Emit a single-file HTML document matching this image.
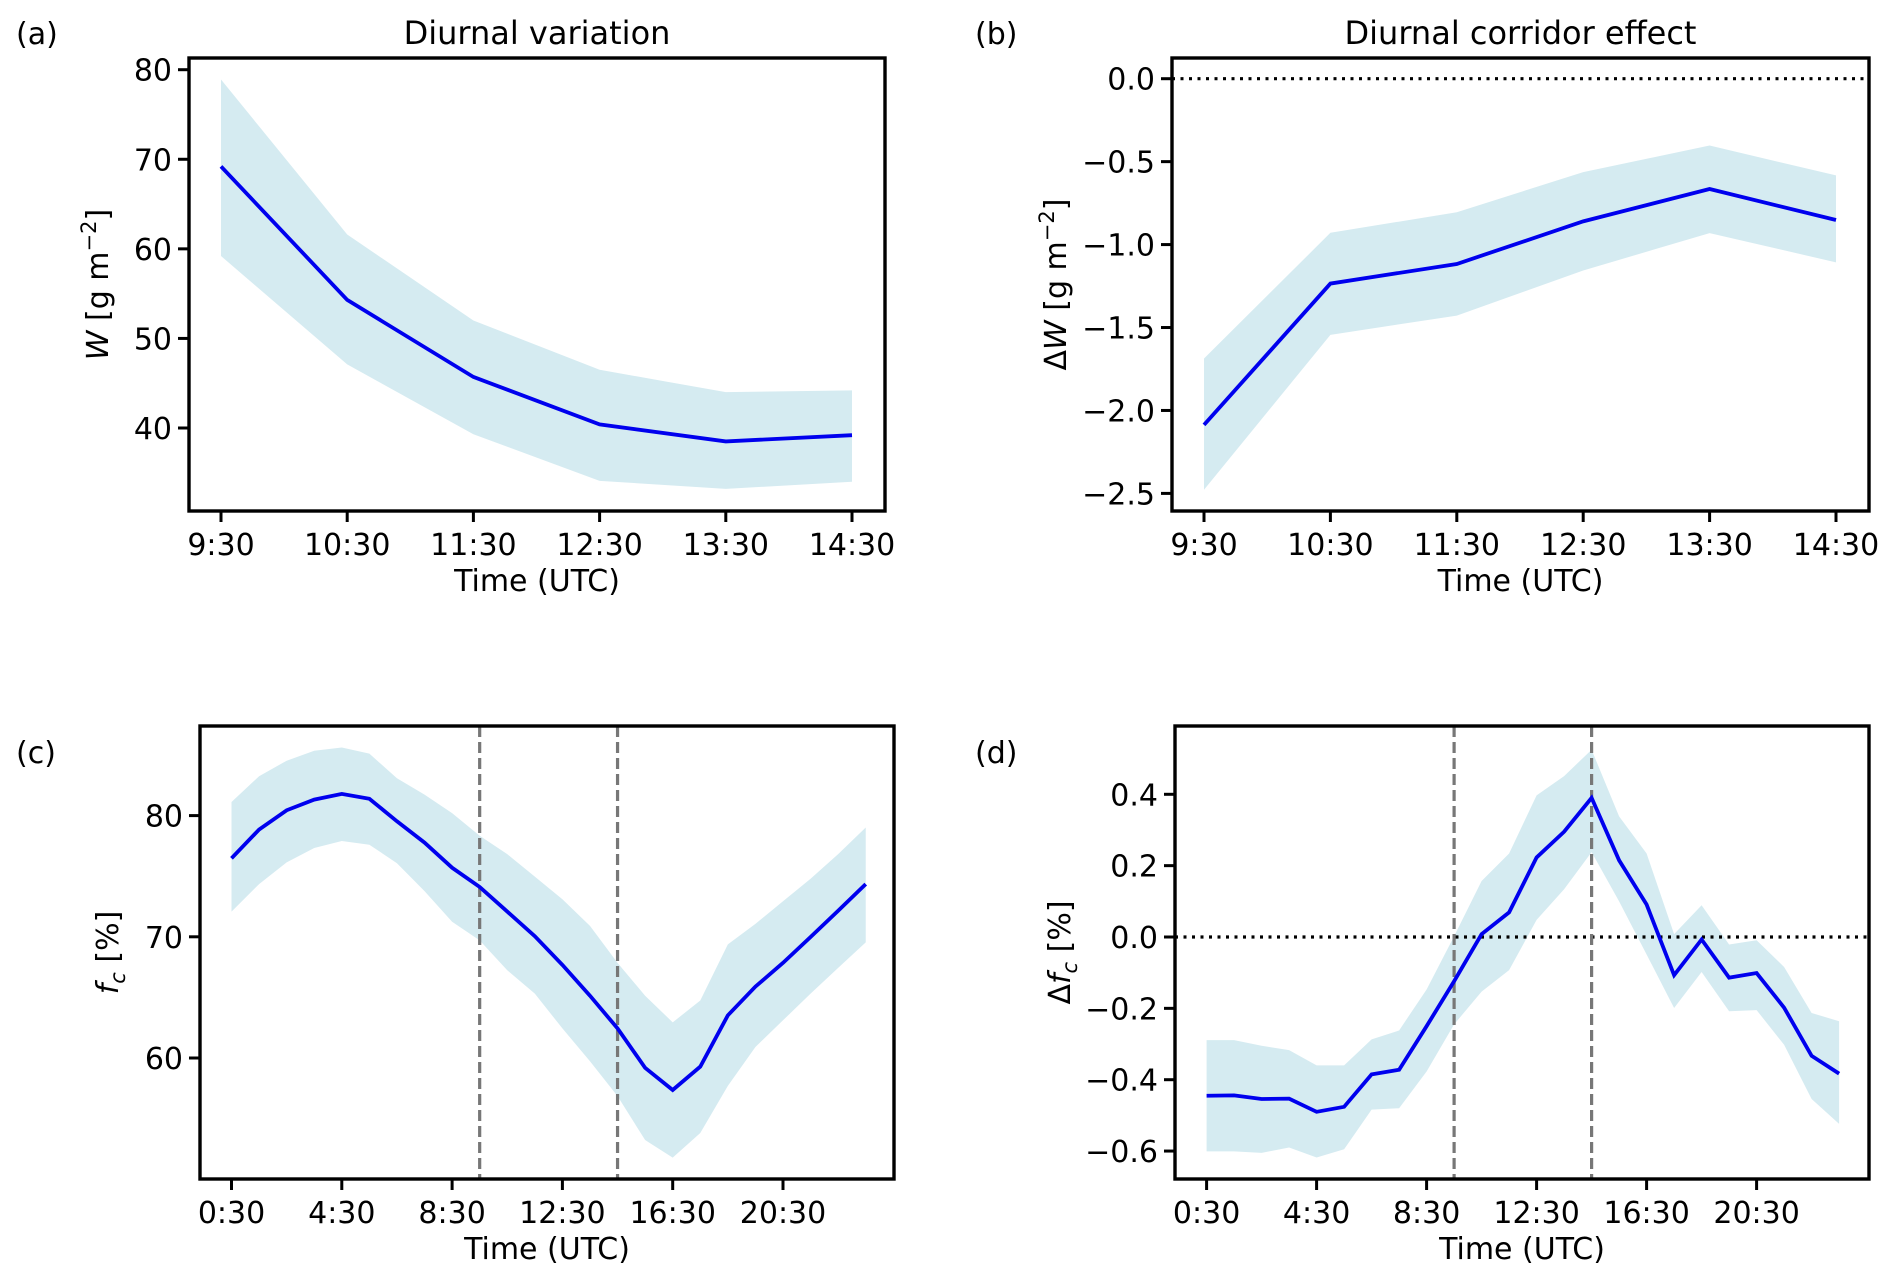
<!DOCTYPE html>
<html><head><meta charset="utf-8"><style>
html,body{margin:0;padding:0;background:#fff;}
svg{display:block;font-family:"DejaVu Sans","Liberation Sans",sans-serif;}
</style></head><body>
<svg id="fig" width="1892" height="1278" viewBox="0 0 1892 1278" xmlns="http://www.w3.org/2000/svg"></svg>
<script>
// Panel a
const aCats = ["9:30","10:30","11:30","12:30","13:30","14:30"];
const aMean = [69.2,54.3,45.7,40.4,38.5,39.2];
const aUpper = [78.9,61.6,52.0,46.5,44.0,44.2];
const aLower = [59.2,47.1,39.3,34.1,33.2,34.0];
const aYTicks = [40,50,60,70,80];
// Panel b
const bMean = [-2.087,-1.235,-1.117,-0.860,-0.665,-0.852];
const bUpper = [-1.687,-0.929,-0.805,-0.563,-0.403,-0.583];
const bLower = [-2.478,-1.544,-1.428,-1.156,-0.931,-1.107];
const bYTicks = [-2.5,-2.0,-1.5,-1.0,-0.5,0.0];
// Panel c (hourly 0:30..23:30)
const hourly = [0,1,2,3,4,5,6,7,8,9,10,11,12,13,14,15,16,17,18,19,20,21,22,23];
const hourTickLabels = ["0:30","4:30","8:30","12:30","16:30","20:30"];
const hourTickIdx = [0,4,8,12,16,20];
const vlineIdx = [9,14];
const cMean = [76.48,78.85,80.44,81.32,81.79,81.39,79.53,77.77,75.70,74.11,72.08,70.05,67.68,65.14,62.44,59.19,57.36,59.29,63.52,65.89,67.85,69.98,72.15,74.35];
const cUpper = [81.12,83.25,84.53,85.35,85.62,85.11,83.08,81.73,80.20,78.34,76.82,74.96,73.10,70.90,67.85,65.14,62.94,64.74,69.37,71.07,72.93,74.79,76.82,79.02];
const cLower = [72.08,74.35,76.14,77.33,77.90,77.60,76.07,73.77,71.24,69.71,67.24,65.31,62.44,59.73,56.85,53.23,51.78,53.81,57.70,60.91,63.11,65.31,67.44,69.54];
const cYTicks = [60,70,80];
// Panel d
const dMean = [-0.445,-0.444,-0.454,-0.453,-0.490,-0.476,-0.385,-0.372,-0.25,-0.124,0.008,0.069,0.223,0.295,0.390,0.215,0.091,-0.107,-0.007,-0.114,-0.101,-0.198,-0.333,-0.383];
const dUpper = [-0.289,-0.289,-0.305,-0.317,-0.360,-0.360,-0.287,-0.262,-0.147,0.002,0.157,0.234,0.397,0.451,0.525,0.338,0.234,0.008,0.089,-0.021,-0.009,-0.084,-0.213,-0.236];
const dLower = [-0.601,-0.601,-0.605,-0.590,-0.618,-0.595,-0.484,-0.480,-0.377,-0.245,-0.153,-0.093,0.048,0.134,0.238,0.100,-0.049,-0.199,-0.098,-0.208,-0.205,-0.302,-0.454,-0.524];
const dYTicks = [-0.6,-0.4,-0.2,0.0,0.2,0.4];

const NS="http://www.w3.org/2000/svg";
const svg=document.getElementById('fig');
function mk(tag,attrs,parent){const e=document.createElementNS(NS,tag);for(const k in attrs)e.setAttribute(k,attrs[k]);(parent||svg).appendChild(e);return e;}
function lin(d0,d1,r0,r1){return v=>r0+(v-d0)*(r1-r0)/(d1-d0);}

function panel(cfg){
  const g=mk('g',{});
  
  
  const {x0,x1,y0,y1}=cfg.frame;
  const X=cfg.X, Y=cfg.Y;
  let pts=cfg.xs.map((v,i)=>X(v)+','+Y(cfg.upper[i]));
  pts=pts.concat(cfg.xs.map((v,i)=>X(v)+','+Y(cfg.lower[i])).reverse());
  const band=mk('polygon',{points:pts.join(' '),fill:'#d5ebf1',stroke:'none'},g);
  
  
  if(cfg.zero){
    const z=mk('line',{x1:x0,x2:x1,y1:Y(0),y2:Y(0),stroke:'#000','stroke-width':3.2,'stroke-dasharray':'3,5.5'},g);
    
    
  }
  if(cfg.vlines){cfg.vlines.forEach(v=>{
    const l=mk('line',{x1:X(v),x2:X(v),y1:y0,y2:y1,stroke:'#777','stroke-width':3.2,'stroke-dasharray':'11,5'},g);
    
    
  });}
  const ln=mk('polyline',{points:cfg.xs.map((v,i)=>X(v)+','+Y(cfg.mean[i])).join(' '),fill:'none',stroke:'#0000ee','stroke-width':3.8,'stroke-linejoin':'miter'},g);
  
  
  const fr=mk('rect',{x:x0,y:y0,width:x1-x0,height:y1-y0,fill:'none',stroke:'#000','stroke-width':3.4},g);
  
  
  cfg.xticks.forEach((v,i)=>{
    const t=mk('line',{x1:X(v),x2:X(v),y1:y1,y2:y1+11,stroke:'#000','stroke-width':3},g);
    
    
    const tx=mk('text',{x:X(v),y:y1+44,'font-size':30,'text-anchor':'middle',fill:'#000'},g);
    tx.textContent=cfg.xlabels[i];
    
    
  });
  cfg.yticks.forEach(v=>{
    const t=mk('line',{x1:x0-11,x2:x0,y1:Y(v),y2:Y(v),stroke:'#000','stroke-width':3},g);
    
    
    const tx=mk('text',{x:x0-17,y:Y(v)+11,'font-size':30,'text-anchor':'end',fill:'#000'},g);
    tx.textContent=cfg.yfmt(v);
    
    
  });
  const xl=mk('text',{x:(x0+x1)/2,y:y1+80,'font-size':30,'text-anchor':'middle',fill:'#000'},g);
  xl.textContent='Time (UTC)';
  
  
  const yl=mk('text',{x:0,y:0,'font-size':30,'text-anchor':'middle',fill:'#000',transform:`translate(${cfg.ylx},${(y0+y1)/2}) rotate(-90)`},g);
  yl.innerHTML=cfg.ylabel;
  
  
  const pl=mk('text',{x:cfg.plx,y:cfg.ply,'font-size':30,fill:'#000'},g);
  pl.textContent=cfg.plabel;
  
  
  if(cfg.title){
    const ti=mk('text',{x:(x0+x1)/2,y:44,'font-size':32,'text-anchor':'middle',fill:'#000'},g);
    ti.textContent=cfg.title;
    
    
  }
}
const idx6=[0,1,2,3,4,5];
const f1=v=>v.toFixed(1).replace('-','\u2212');
const f0=v=>String(v);
panel({name:'panel-a',frame:{x0:189,x1:885,y0:58,y1:511},X:lin(0,5,221,852),Y:lin(40,80,428,69.7),
  xs:idx6,mean:aMean,upper:aUpper,lower:aLower,xticks:idx6,xlabels:aCats,yticks:aYTicks,yfmt:f0,
  ylx:108,ylabel:'<tspan font-style="italic">W</tspan> [g m<tspan dy="-12" font-size="21">\u22122</tspan><tspan dy="12">]</tspan>',
  plx:16,ply:44,plabel:'(a)',title:'Diurnal variation'});
panel({name:'panel-b',frame:{x0:1172,x1:1869,y0:58,y1:511},X:lin(0,5,1204,1836),Y:lin(-2.5,0,493.4,78.7),
  xs:idx6,mean:bMean,upper:bUpper,lower:bLower,xticks:idx6,xlabels:aCats,yticks:bYTicks,yfmt:f1,zero:true,
  ylx:1066,ylabel:'\u0394<tspan font-style="italic">W</tspan> [g m<tspan dy="-12" font-size="21">\u22122</tspan><tspan dy="12">]</tspan>',
  plx:975,ply:44,plabel:'(b)',title:'Diurnal corridor effect'});
panel({name:'panel-c',frame:{x0:200,x1:894,y0:726,y1:1179},X:lin(0,4,231.5,341.8),Y:lin(60,80,1058,815.6),
  xs:hourly,mean:cMean,upper:cUpper,lower:cLower,xticks:hourTickIdx,xlabels:hourTickLabels,yticks:cYTicks,yfmt:f0,vlines:vlineIdx,
  ylx:118,ylabel:'<tspan font-style="italic">f</tspan><tspan font-style="italic" font-size="21" dy="7">c</tspan><tspan dy="-7"> [%]</tspan>',
  plx:16,ply:763,plabel:'(c)'});
panel({name:'panel-d',frame:{x0:1175,x1:1869,y0:726,y1:1179},X:lin(0,4,1206.6,1316.6),Y:lin(0,0.4,937,794.3),
  xs:hourly,mean:dMean,upper:dUpper,lower:dLower,xticks:hourTickIdx,xlabels:hourTickLabels,yticks:dYTicks,yfmt:f1,vlines:vlineIdx,zero:true,
  ylx:1070,ylabel:'\u0394<tspan font-style="italic">f</tspan><tspan font-style="italic" font-size="21" dy="7">c</tspan><tspan dy="-7"> [%]</tspan>',
  plx:975,ply:763,plabel:'(d)'});
</script>
</body></html>
